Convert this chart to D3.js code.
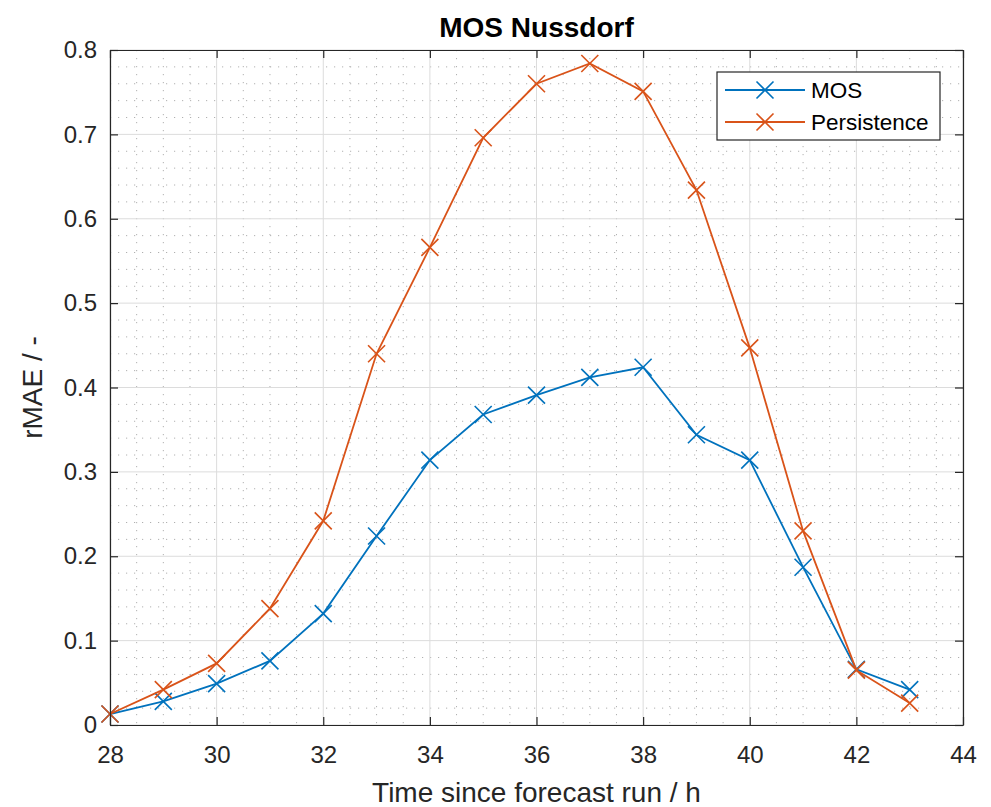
<!DOCTYPE html>
<html>
<head>
<meta charset="utf-8">
<script src="https://cdn.jsdelivr.net/npm/d3@7"></script>
<style>
  body { margin: 0; background: #fff; }
  svg text { font-family: "Liberation Sans", Arial, Helvetica, sans-serif; fill: #262626; }
</style>
</head>
<body>
<script>
// forecast lead time (h)
const hours = [28, 29, 30, 31, 32, 33, 34, 35, 36, 37, 38, 39, 40, 41, 42, 43];
const mosValues = [0.013, 0.028, 0.049, 0.076, 0.132, 0.224, 0.314, 0.368, 0.391, 0.412, 0.424, 0.344, 0.314, 0.187, 0.066, 0.042];
const persistenceValues = [0.013, 0.042, 0.073, 0.138, 0.242, 0.440, 0.566, 0.696, 0.760, 0.784, 0.751, 0.634, 0.447, 0.230, 0.065, 0.026];
const seriesNames = ["MOS", "Persistence"];
const seriesColors = ["#0072BD", "#D95319"];
const xTicks = [28, 30, 32, 34, 36, 38, 40, 42, 44];
const yTicks = [0, 0.1, 0.2, 0.3, 0.4, 0.5, 0.6, 0.7, 0.8];

const width = 991, height = 807;
const plotLeft = 110, plotRight = 963, plotTop = 50, plotBottom = 725;

const svg = d3.select("body").append("svg")
  .attr("width", width)
  .attr("height", height);

const x = d3.scaleLinear().domain([28, 44]).range([plotLeft, plotRight]);
const y = d3.scaleLinear().domain([0, 0.8]).range([plotBottom, plotTop]);

// minor grid (dotted)
const xMinor = d3.range(0, 33).map(i => 28 + i * 0.5).filter((d, i) => i % 4 !== 0);
const yMinor = d3.range(0, 41).map(i => i * 0.02).filter((d, i) => i % 5 !== 0);

const grid = svg.append("g");
grid.selectAll(".xminor").data(xMinor).join("line")
  .attr("x1", d => x(d)).attr("x2", d => x(d))
  .attr("y1", plotTop).attr("y2", plotBottom)
  .attr("stroke", "#b0b0b0").attr("stroke-width", 1)
  .attr("stroke-dasharray", "1.2,6.8");
grid.selectAll(".yminor").data(yMinor).join("line")
  .attr("x1", plotLeft).attr("x2", plotRight)
  .attr("y1", d => y(d)).attr("y2", d => y(d))
  .attr("stroke", "#b0b0b0").attr("stroke-width", 1)
  .attr("stroke-dasharray", "1.2,6.8");

// major grid
grid.selectAll(".xmajor").data(xTicks).join("line")
  .attr("x1", d => x(d)).attr("x2", d => x(d))
  .attr("y1", plotTop).attr("y2", plotBottom)
  .attr("stroke", "#dcdcdc").attr("stroke-width", 1);
grid.selectAll(".ymajor").data(yTicks).join("line")
  .attr("x1", plotLeft).attr("x2", plotRight)
  .attr("y1", d => y(d)).attr("y2", d => y(d))
  .attr("stroke", "#dcdcdc").attr("stroke-width", 1);

// series
const series = [mosValues, persistenceValues].map((vals, i) => ({
  name: seriesNames[i],
  color: seriesColors[i],
  points: hours.map((h, j) => ({ h, v: vals[j] }))
}));

const line = d3.line().x(d => x(d.h)).y(d => y(d.v));
const m = 8.5;
const crossPath = (cx, cy) => `M${cx - m},${cy - m}L${cx + m},${cy + m}M${cx - m},${cy + m}L${cx + m},${cy - m}`;

const plot = svg.append("g");
series.forEach(s => {
  plot.append("path")
    .datum(s.points)
    .attr("d", line)
    .attr("fill", "none")
    .attr("stroke", s.color)
    .attr("stroke-width", 1.8);
  plot.selectAll(null).data(s.points).join("path")
    .attr("d", d => crossPath(x(d.h), y(d.v)))
    .attr("stroke", s.color)
    .attr("stroke-width", 1.6)
    .attr("fill", "none");
});

// axes (ticks inward)
const fmtY = d => d === 0 ? "0" : d.toFixed(1);
const axes = svg.append("g");

axes.append("g").attr("transform", `translate(0,${plotBottom})`)
  .call(d3.axisBottom(x).tickValues(xTicks).tickSize(-8).tickSizeOuter(0).tickPadding(21));
axes.append("g").attr("transform", `translate(0,${plotTop})`)
  .call(d3.axisTop(x).tickValues(xTicks).tickSize(-8).tickSizeOuter(0).tickFormat(""));
axes.append("g").attr("transform", `translate(${plotLeft},0)`)
  .call(d3.axisLeft(y).tickValues(yTicks).tickSize(-8).tickSizeOuter(0).tickPadding(13).tickFormat(fmtY));
axes.append("g").attr("transform", `translate(${plotRight},0)`)
  .call(d3.axisRight(y).tickValues(yTicks).tickSize(-8).tickSizeOuter(0).tickFormat(""));

axes.selectAll("g").attr("font-family", null).attr("font-size", 24);
axes.selectAll(".domain").attr("stroke", "#262626").attr("stroke-width", 1.2);
axes.selectAll(".tick line").attr("stroke", "#262626").attr("stroke-width", 1.2);
axes.selectAll(".tick text").attr("fill", "#262626");

// titles
svg.append("text")
  .attr("x", (plotLeft + plotRight) / 2).attr("y", 37)
  .attr("text-anchor", "middle")
  .attr("font-size", 28).attr("font-weight", "bold")
  .style("fill", "#000")
  .text("MOS Nussdorf");

svg.append("text")
  .attr("x", (plotLeft + plotRight) / 2).attr("y", 802)
  .attr("text-anchor", "middle")
  .attr("font-size", 28)
  .text("Time since forecast run / h");

svg.append("text")
  .attr("transform", `translate(42,${(plotTop + plotBottom) / 2}) rotate(-90)`)
  .attr("text-anchor", "middle")
  .attr("font-size", 28)
  .text("rMAE / -");

// legend
const legend = svg.append("g").attr("transform", "translate(717,72)");
legend.append("rect")
  .attr("width", 223).attr("height", 68)
  .attr("fill", "#fff")
  .attr("stroke", "#262626").attr("stroke-width", 1.2);

series.forEach((s, i) => {
  const row = legend.append("g").attr("transform", `translate(0,${18 + i * 32})`);
  row.append("line")
    .attr("x1", 8).attr("x2", 88)
    .attr("stroke", s.color).attr("stroke-width", 1.8);
  row.append("path")
    .attr("d", crossPath(48, 0))
    .attr("stroke", s.color).attr("stroke-width", 1.6);
  row.append("text")
    .attr("x", 94).attr("dy", "0.36em")
    .attr("font-size", 22.5)
    .style("fill", "#000")
    .text(s.name);
});
</script>
</body>
</html>
